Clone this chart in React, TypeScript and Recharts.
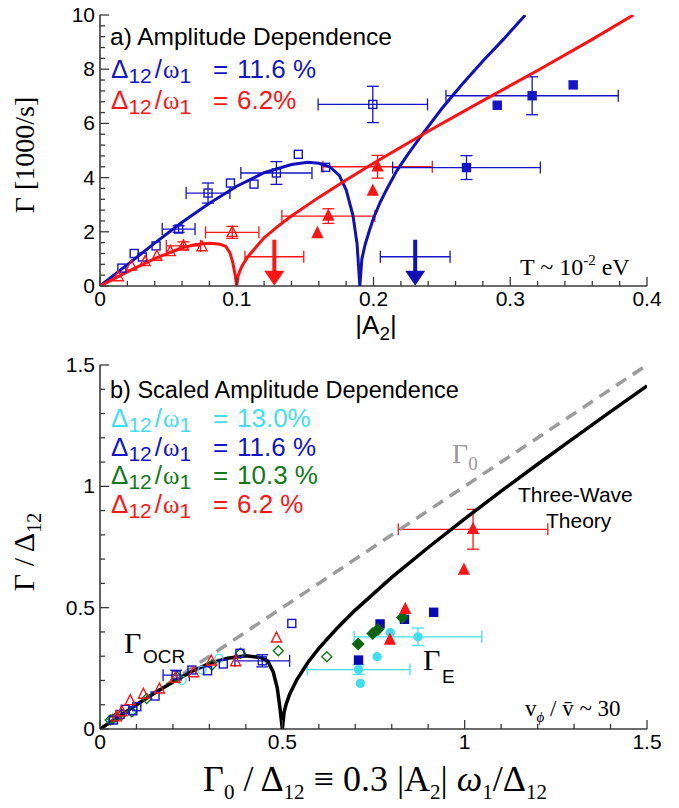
import React from "react";
import { ComposedChart, Scatter, XAxis, YAxis, ErrorBar } from "recharts";

const SANS = "'Liberation Sans', Arial, Helvetica, sans-serif";
const SERIF = "'Liberation Serif', 'Times New Roman', serif";

const BLUE = "#1414c8";
const RED = "#ff1414";
const GREEN = "#13781a";
const CYAN = "#40def0";
const GRAY = "#9b9b9b";
const FRAME = "#3a3a3a";

// ---------- panel a: ticks ----------
const xTicksA = [0, 0.02, 0.04, 0.06, 0.08, 0.1, 0.12, 0.14, 0.16, 0.18, 0.2, 0.22, 0.24, 0.26, 0.28, 0.3, 0.32, 0.34, 0.36, 0.38, 0.4];
const xMajorA = [0, 0.1, 0.2, 0.3, 0.4];
const yTicksA = [0, 0.4, 0.8, 1.2, 1.6, 2, 2.4, 2.8, 3.2, 3.6, 4, 4.4, 4.8, 5.2, 5.6, 6, 6.4, 6.8, 7.2, 7.6, 8, 8.4, 8.8, 9.2, 9.6, 10];
const yMajorA = [0, 2, 4, 6, 8, 10];

// ---------- panel a: theory curves (|A2|, Gamma) ----------
const blueCurveA = [
  { x: 0, y: 0 }, { x: 0.02, y: 0.79 }, { x: 0.04, y: 1.58 }, { x: 0.06, y: 2.35 }, { x: 0.08, y: 3.05 },
  { x: 0.1, y: 3.68 }, { x: 0.12, y: 4.18 }, { x: 0.14, y: 4.48 }, { x: 0.152, y: 4.57 }, { x: 0.16, y: 4.53 },
  { x: 0.168, y: 4.4 }, { x: 0.175, y: 4.08 }, { x: 0.18, y: 3.55 }, { x: 0.185, y: 2.6 }, { x: 0.188, y: 1.55 },
  { x: 0.19, y: 0 }, { x: 0.1915, y: 1.0 }, { x: 0.194, y: 1.55 }, { x: 0.197, y: 2.05 }, { x: 0.2, y: 2.5 },
  { x: 0.205, y: 3.1 }, { x: 0.21, y: 3.6 }, { x: 0.217, y: 4.25 }, { x: 0.225, y: 4.85 }, { x: 0.235, y: 5.55 },
  { x: 0.25, y: 6.55 }, { x: 0.265, y: 7.45 }, { x: 0.28, y: 8.3 }, { x: 0.295, y: 9.1 }, { x: 0.311, y: 10 },
];
const redCurveA = [
  { x: 0, y: 0 }, { x: 0.02, y: 0.52 }, { x: 0.04, y: 1.01 }, { x: 0.06, y: 1.41 }, { x: 0.07, y: 1.53 },
  { x: 0.08, y: 1.58 }, { x: 0.088, y: 1.54 }, { x: 0.092, y: 1.46 }, { x: 0.095, y: 1.23 }, { x: 0.097, y: 0.89 },
  { x: 0.0988, y: 0.42 }, { x: 0.1, y: 0 }, { x: 0.101, y: 0.37 }, { x: 0.102, y: 0.52 }, { x: 0.104, y: 0.75 },
  { x: 0.108, y: 1.07 }, { x: 0.114, y: 1.43 }, { x: 0.12, y: 1.78 }, { x: 0.13, y: 2.2 }, { x: 0.14, y: 2.58 },
  { x: 0.16, y: 3.27 }, { x: 0.18, y: 3.91 }, { x: 0.2, y: 4.53 }, { x: 0.24, y: 5.71 }, { x: 0.28, y: 6.84 },
  { x: 0.32, y: 7.95 }, { x: 0.36, y: 9.1 }, { x: 0.39, y: 10 },
];

// ---------- panel a: measurements ----------
const blueOpenA = [
  { x: 0.016, y: 0.66 }, { x: 0.025, y: 1.2 }, { x: 0.031, y: 1.07 }, { x: 0.041, y: 1.48 },
  { x: 0.0954, y: 3.8 }, { x: 0.1126, y: 3.76 }, { x: 0.145, y: 4.86 }, { x: 0.165, y: 4.38 },
];
const blueOpenErrA = [
  { x: 0.0575, y: 2.1, ex: 0.012, ey: 0.12 }, { x: 0.079, y: 3.43, ex: 0.016, ey: 0.37 },
  { x: 0.129, y: 4.17, ex: 0.026, ey: 0.42 }, { x: 0.1995, y: 6.7, ex: 0.04, ey: 0.67 },
];
const redOpenA = [
  { x: 0.0134, y: 0.34 }, { x: 0.023, y: 0.74 }, { x: 0.033, y: 0.9 }, { x: 0.0416, y: 1.1 },
  { x: 0.0514, y: 1.27 }, { x: 0.0746, y: 1.45 },
];
const redOpenErrA = [
  { x: 0.061, y: 1.48, ex: 0.0125, ey: 0.15 }, { x: 0.0967, y: 1.98, ex: 0.0195, ey: 0.22 },
];
const redFilledA = [{ x: 0.159, y: 1.94 }, { x: 0.1995, y: 3.5 }];
const redFilledErrA = [
  { x: 0.167, y: 2.58, ex: 0.034, ey: 0.27 }, { x: 0.203, y: 4.4, ex: 0.04, ey: 0.42 },
];
const blueFilledA = [{ x: 0.2905, y: 6.67 }, { x: 0.346, y: 7.42 }];
const blueFilledErrA = [
  { x: 0.268, y: 4.37, ex: 0.054, ey: 0.44 }, { x: 0.316, y: 7.02, ex: 0.063, ey: 0.7 },
];
const redLimitA = [{ x: 0.1275, y: 1.08, ex: 0.0215 }];
const blueLimitA = [{ x: 0.2305, y: 1.08, ex: 0.0255 }];

// ---------- panel b: ticks ----------
const ticksB = [0, 0.1, 0.2, 0.3, 0.4, 0.5, 0.6, 0.7, 0.8, 0.9, 1, 1.1, 1.2, 1.3, 1.4, 1.5];
const majorB = [0, 0.5, 1, 1.5];

// ---------- panel b: curves ----------
const theoryB = [
  { x: 0, y: 0 }, { x: 0.05, y: 0.05 }, { x: 0.1, y: 0.1 }, { x: 0.15, y: 0.148 }, { x: 0.2, y: 0.194 },
  { x: 0.25, y: 0.236 }, { x: 0.3, y: 0.27 }, { x: 0.35, y: 0.292 }, { x: 0.4, y: 0.302 }, { x: 0.44, y: 0.295 },
  { x: 0.46, y: 0.28 }, { x: 0.475, y: 0.235 }, { x: 0.486, y: 0.17 }, { x: 0.494, y: 0.08 }, { x: 0.5, y: 0 },
  { x: 0.505, y: 0.071 }, { x: 0.51, y: 0.1 }, { x: 0.52, y: 0.143 }, { x: 0.54, y: 0.204 }, { x: 0.57, y: 0.274 },
  { x: 0.6, y: 0.332 }, { x: 0.65, y: 0.415 }, { x: 0.7, y: 0.49 }, { x: 0.8, y: 0.625 }, { x: 0.9, y: 0.748 },
  { x: 1.0, y: 0.866 }, { x: 1.1, y: 0.98 }, { x: 1.2, y: 1.091 }, { x: 1.3, y: 1.2 }, { x: 1.4, y: 1.308 },
  { x: 1.5, y: 1.414 },
];
const gammaZeroB = [{ x: 0, y: 0 }, { x: 1.5, y: 1.5 }];

// ---------- panel b: measurements ----------
const redOpenB = [
  { x: 0.045, y: 0.05 }, { x: 0.06, y: 0.071 }, { x: 0.083, y: 0.117 }, { x: 0.119, y: 0.143 }, { x: 0.163, y: 0.165 },
  { x: 0.206, y: 0.209 }, { x: 0.257, y: 0.232 }, { x: 0.305, y: 0.28 }, { x: 0.372, y: 0.277 }, { x: 0.484, y: 0.375 },
];
const blueOpenB = [
  { x: 0.037, y: 0.037 }, { x: 0.055, y: 0.06 }, { x: 0.069, y: 0.081 }, { x: 0.09, y: 0.075 }, { x: 0.101, y: 0.092 },
  { x: 0.151, y: 0.136 }, { x: 0.252, y: 0.243 }, { x: 0.295, y: 0.24 }, { x: 0.338, y: 0.268 }, { x: 0.384, y: 0.312 },
  { x: 0.526, y: 0.435 },
];
const blueOpenErrB = [
  { x: 0.209, y: 0.222, ex: 0.036, ey: 0.02 }, { x: 0.445, y: 0.281, ex: 0.075, ey: 0.025 },
];
const greenOpenB = [
  { x: 0.028, y: 0.037 }, { x: 0.035, y: 0.04 }, { x: 0.046, y: 0.05 }, { x: 0.06, y: 0.06 }, { x: 0.087, y: 0.071 },
  { x: 0.128, y: 0.126 }, { x: 0.211, y: 0.215 }, { x: 0.307, y: 0.264 }, { x: 0.385, y: 0.312 }, { x: 0.489, y: 0.322 },
  { x: 0.622, y: 0.298 },
];
const cyanOpenB = [
  { x: 0.091, y: 0.078 }, { x: 0.225, y: 0.2 }, { x: 0.28, y: 0.243 }, { x: 0.326, y: 0.291 },
];
const blueFilledB = [
  { x: 0.709, y: 0.284 }, { x: 0.768, y: 0.433 }, { x: 0.835, y: 0.452 }, { x: 0.915, y: 0.481 },
];
const greenFilledB = [
  { x: 0.708, y: 0.35 }, { x: 0.748, y: 0.394 }, { x: 0.762, y: 0.41 }, { x: 0.829, y: 0.459 },
];
const redFilledB = [{ x: 0.795, y: 0.367 }, { x: 0.837, y: 0.493 }, { x: 0.998, y: 0.655 }];
const redFilledErrB = [{ x: 1.023, y: 0.823, ex: 0.205, ey: 0.082 }];
const cyanFilledB = [{ x: 0.796, y: 0.397 }, { x: 0.76, y: 0.298 }, { x: 0.714, y: 0.188 }];
const cyanFilledErrB = [
  { x: 0.872, y: 0.38, ex: 0.175, ey: 0.036 }, { x: 0.709, y: 0.245, ex: 0.141, ey: 0.02 },
];

const legendA = [
  { value: "11.6 %", color: BLUE },
  { value: "6.2%", color: RED },
];
const legendB = [
  { value: "13.0%", color: CYAN },
  { value: "11.6 %", color: BLUE },
  { value: "10.3 %", color: GREEN },
  { value: "6.2 %", color: RED },
];

// ---------- marker shapes ----------
const noDot = () => <g />;

const square = (color: string, s: number, filled: boolean) => (p: any) => (
  <rect x={p.cx - s / 2} y={p.cy - s / 2} width={s} height={s}
    fill={filled ? color : "none"} stroke={color} strokeWidth={1.4} />
);
const triangle = (color: string, s: number, filled: boolean) => (p: any) => (
  <polygon
    points={`${p.cx},${p.cy - s * 0.6} ${p.cx - s / 2},${p.cy + s * 0.4} ${p.cx + s / 2},${p.cy + s * 0.4}`}
    fill={filled ? color : "none"} stroke={color} strokeWidth={1.4} strokeLinejoin="miter" />
);
const diamond = (color: string, s: number, filled: boolean) => (p: any) => (
  <polygon
    points={`${p.cx},${p.cy - s / 2} ${p.cx + s / 2},${p.cy} ${p.cx},${p.cy + s / 2} ${p.cx - s / 2},${p.cy}`}
    fill={filled ? color : "none"} stroke={color} strokeWidth={1.4} />
);
const circle = (color: string, r: number, filled: boolean) => (p: any) => (
  <circle cx={p.cx} cy={p.cy} r={r} fill={filled ? color : "none"} stroke={color} strokeWidth={1.3} />
);
const downArrow = (color: string) => (p: any) => (
  <g>
    <line x1={p.cx} y1={p.cy - 17} x2={p.cx} y2={p.cy + 16} stroke={color} strokeWidth={4} />
    <polygon points={`${p.cx - 10},${p.cy + 14} ${p.cx + 10},${p.cy + 14} ${p.cx},${p.cy + 29}`} fill={color} />
  </g>
);

// ---------- inward ticks ----------
const near = (list: number[], v: number) => list.some((m) => Math.abs(m - v) < 1e-6);

const makeTick = (side: string, majors: number[], label: boolean) => (props: any) => {
  const { x, y, payload } = props;
  const v = payload.value;
  const major = near(majors, v);
  const len = major ? 9 : 5;
  let line;
  if (side === "bottom") line = <line x1={x} y1={y} x2={x} y2={y - len} />;
  else if (side === "top") line = <line x1={x} y1={y} x2={x} y2={y + len} />;
  else if (side === "left") line = <line x1={x} y1={y} x2={x + len} y2={y} />;
  else line = <line x1={x} y1={y} x2={x - len} y2={y} />;
  let text = null;
  if (label && major) {
    if (side === "bottom")
      text = <text x={x} y={y + 20} textAnchor="middle" fontFamily={SANS} fontSize={21} fill="#000">{String(v)}</text>;
    else
      text = <text x={x - 5} y={y + 7} textAnchor="end" fontFamily={SANS} fontSize={21} fill="#000">{String(v)}</text>;
  }
  return (
    <g>
      <g stroke={FRAME} strokeWidth={1.3}>{line}</g>
      {text}
    </g>
  );
};

const axisLine = { stroke: FRAME, strokeWidth: 1.6 };

function frame(xDomain: number[], xTicks: number[], xMajor: number[], yDomain: number[], yTicks: number[], yMajor: number[]) {
  return [
    <XAxis key="xb" type="number" dataKey="x" domain={xDomain} ticks={xTicks} interval={0} height={30}
      tickSize={0} tickMargin={0} tickLine={false} axisLine={axisLine} allowDataOverflow
      tick={makeTick("bottom", xMajor, true)} />,
    <XAxis key="xt" xAxisId="t" orientation="top" type="number" dataKey="x" domain={xDomain} ticks={xTicks}
      interval={0} height={0} tickSize={0} tickMargin={0} tickLine={false} axisLine={axisLine} allowDataOverflow
      tick={makeTick("top", xMajor, false)} />,
    <YAxis key="yl" type="number" dataKey="y" domain={yDomain} ticks={yTicks} interval={0} width={60}
      tickSize={0} tickMargin={0} tickLine={false} axisLine={axisLine} allowDataOverflow
      tick={makeTick("left", yMajor, true)} />,
    <YAxis key="yr" yAxisId="r" orientation="right" type="number" dataKey="y" domain={yDomain} ticks={yTicks}
      interval={0} width={0} tickSize={0} tickMargin={0} tickLine={false} axisLine={axisLine} allowDataOverflow
      tick={makeTick("right", yMajor, false)} />,
  ];
}

function curve(key: string, data: any[], color: string, width: number, dash?: string) {
  return (
    <Scatter key={key} data={data} shape={noDot} lineJointType="linear" legendType="none"
      line={{ stroke: color, strokeWidth: width, strokeDasharray: dash }} isAnimationActive={false} />
  );
}

function points(key: string, data: any[], shape: any, color: string, ex = false, ey = false) {
  return (
    <Scatter key={key} data={data} shape={shape} legendType="none" isAnimationActive={false}>
      {ex && <ErrorBar dataKey="ex" direction="x" width={6} stroke={color} strokeWidth={1.3} />}
      {ey && <ErrorBar dataKey="ey" direction="y" width={6} stroke={color} strokeWidth={1.3} />}
    </Scatter>
  );
}

function DeltaLegend({ x, y, color, value }: { x: number; y: number; color: string; value: string }) {
  return (
    <text y={y} fill={color} fontFamily={SANS} fontSize={26}>
      <tspan x={x + 1}>Δ</tspan>
      <tspan fontSize={21} dy={5}>12</tspan>
      <tspan dy={-5} dx={3}>/</tspan>
      <tspan fontFamily={SERIF} fontSize={25} dx={1}>ω</tspan>
      <tspan fontSize={21} dy={5}>1</tspan>
      <tspan x={x + 103} dy={-5}>=</tspan>
      <tspan x={x + 127}>{value}</tspan>
    </text>
  );
}

export default function App() {
  return (
    <div style={{ position: "absolute", left: 0, top: 0, width: 679, height: 808, background: "#fff" }}>
      <div style={{ position: "absolute", left: 0, top: 0 }}>
        <ComposedChart width={679} height={345} margin={{ top: 15, right: 32, bottom: 29, left: 40 }}>
          {frame([0, 0.4], xTicksA, xMajorA, [0, 10], yTicksA, yMajorA)}
          {curve("bc", blueCurveA, "#1010c0", 3)}
          {curve("rc", redCurveA, "#ff1010", 3)}
          {points("bo", blueOpenA, square(BLUE, 8, false), BLUE)}
          {points("boe", blueOpenErrA, square(BLUE, 8, false), BLUE, true, true)}
          {points("ro", redOpenA, triangle(RED, 10, false), RED)}
          {points("roe", redOpenErrA, triangle(RED, 10, false), RED, true, true)}
          {points("rf", redFilledA, triangle(RED, 10, true), RED)}
          {points("rfe", redFilledErrA, triangle(RED, 10, true), RED, true, true)}
          {points("bf", blueFilledA, square(BLUE, 8, true), BLUE)}
          {points("bfe", blueFilledErrA, square(BLUE, 8, true), BLUE, true, true)}
          {points("rl", redLimitA, downArrow(RED), RED, true)}
          {points("bl", blueLimitA, downArrow("#1010b4"), BLUE, true)}
        </ComposedChart>
      </div>
      <div style={{ position: "absolute", left: 0, top: 345 }}>
        <ComposedChart width={679} height={463} margin={{ top: 20, right: 32, bottom: 49, left: 40 }}>
          {frame([0, 1.5], ticksB, majorB, [0, 1.5], ticksB, majorB)}
          {curve("g0", gammaZeroB, GRAY, 3.5, "12 8")}
          {curve("th", theoryB, "#000", 3.5)}
          {points("cob", cyanOpenB, circle(CYAN, 4, false), CYAN)}
          {points("gob", greenOpenB, diamond(GREEN, 10, false), GREEN)}
          {points("bob", blueOpenB, square(BLUE, 8, false), BLUE)}
          {points("bobe", blueOpenErrB, square(BLUE, 8, false), BLUE, true, true)}
          {points("rob", redOpenB, triangle(RED, 10, false), RED)}
          {points("cfb", cyanFilledB, circle(CYAN, 4, true), CYAN)}
          {points("cfbe", cyanFilledErrB, circle(CYAN, 4, true), CYAN, true, true)}
          {points("bfb", blueFilledB, square("#0a0ab4", 8, true), BLUE)}
          {points("gfb", greenFilledB, diamond("#0d6410", 11, true), GREEN)}
          {points("rfb", redFilledB, triangle(RED, 10, true), RED)}
          {points("rfbe", redFilledErrB, triangle(RED, 10, true), RED, true, true)}
        </ComposedChart>
      </div>
      <svg width={679} height={808} style={{ position: "absolute", left: 0, top: 0, pointerEvents: "none" }}>
        {/* panel a */}
        <text x={110} y={45} fontFamily={SANS} fontSize={24.5} fill="#000">a) Amplitude Dependence</text>
        {legendA.map((l, i) => (
          <DeltaLegend key={i} x={110} y={78 + i * 31} color={l.color} value={l.value} />
        ))}
        <text x={520} y={275} fontFamily={SERIF} fontSize={24} fill="#000">
          T ~ 10<tspan fontSize={15} dy={-10}>-2</tspan><tspan dy={10}> eV</tspan>
        </text>
        <text transform="translate(34,155) rotate(-90)" textAnchor="middle" fontFamily={SERIF} fontSize={28} fill="#000">
          Γ [1000/s]
        </text>
        <text x={376} y={334} textAnchor="middle" fontFamily={SANS} fontSize={26} fill="#000">
          |A<tspan fontSize={19} dy={6}>2</tspan><tspan dy={-6}>|</tspan>
        </text>

        {/* panel b */}
        <text x={110} y={398} fontFamily={SANS} fontSize={23.5} fill="#000">b) Scaled Amplitude Dependence</text>
        {legendB.map((l, i) => (
          <DeltaLegend key={i} x={110} y={427 + i * 28.7} color={l.color} value={l.value} />
        ))}
        <text x={452} y={463} fontFamily={SERIF} fontSize={28} fill={GRAY}>
          Γ<tspan fontSize={19} dy={7}>0</tspan>
        </text>
        <text x={518} y={502} fontFamily={SANS} fontSize={21} fill="#000">Three-Wave</text>
        <text x={546} y={528} fontFamily={SANS} fontSize={21} fill="#000">Theory</text>
        <text x={124} y={653} fontFamily={SERIF} fontSize={30} fill="#000">Γ</text>
        <text x={143} y={663} fontFamily={SANS} fontSize={19} fill="#000">OCR</text>
        <text x={423} y={670} fontFamily={SERIF} fontSize={30} fill="#000">Γ</text>
        <text x={442} y={683} fontFamily={SANS} fontSize={19} fill="#000">E</text>
        <text x={525} y={716} fontFamily={SERIF} fontSize={23} fill="#000">
          v<tspan fontSize={15} dy={6} fontStyle="italic">ϕ</tspan><tspan dy={-6}> / v̄ ~ 30</tspan>
        </text>
        <text transform="translate(34,552) rotate(-90)" textAnchor="middle" fontFamily={SERIF} fontSize={30} fill="#000">
          Γ / Δ<tspan fontSize={20} dy={7}>12</tspan>
        </text>
        <text x={375} y={791} textAnchor="middle" fontFamily={SERIF} fontSize={36} fill="#000">
          Γ<tspan fontSize={21} dy={8}>0</tspan>
          <tspan dy={-8}> / Δ</tspan><tspan fontSize={21} dy={8}>12</tspan>
          <tspan dy={-8}> ≡ 0.3 |A</tspan><tspan fontSize={21} dy={8}>2</tspan>
          <tspan dy={-8}>| </tspan><tspan fontStyle="italic">ω</tspan><tspan fontSize={21} dy={8}>1</tspan>
          <tspan dy={-8}>/Δ</tspan><tspan fontSize={21} dy={8}>12</tspan>
        </text>
      </svg>
    </div>
  );
}
